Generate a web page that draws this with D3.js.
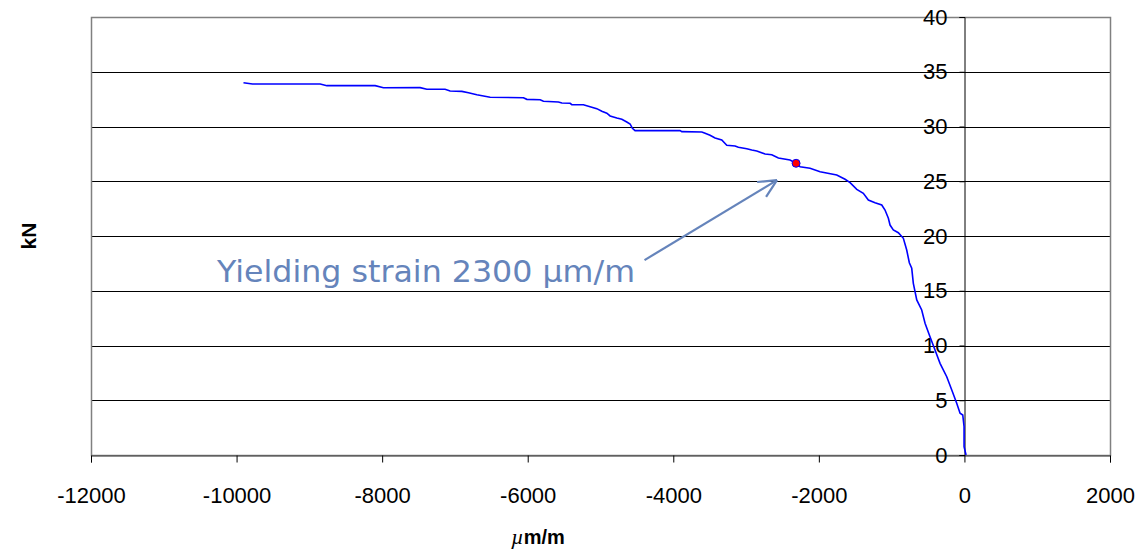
<!DOCTYPE html>
<html>
<head>
<meta charset="utf-8">
<script src="https://cdn.jsdelivr.net/npm/d3@7"></script>
<style>
  body { margin: 0; background: #fff; }
  svg { display: block; }
  .tick text { font-family: "Liberation Sans", Arial, sans-serif; font-size: 22px; fill: #000; }
</style>
</head>
<body>
<svg></svg>
<script>
var W = 1139, H = 552;

// strain (µm/m) and load (kN)
var strain = [-9905, -9781, -8851, -8759, -8096, -7982, -7478, -7386, -7135, -7066, -6905, -6814,
  -6699, -6516, -6059, -6012, -5829, -5784, -5578, -5531, -5417, -5394, -5235, -5143, -5051,
  -4982, -4913, -4868, -4776, -4707, -4639, -4593, -4562, -4525, -3907, -3883, -3608, -3563,
  -3495, -3426, -3334, -3265, -3151, -3106, -2990, -2922, -2853, -2739, -2647, -2556, -2396,
  -2313, -2258, -2121, -1983, -1754, -1640, -1571, -1479, -1389, -1320, -1228, -1136, -1091,
  -1045, -1022, -977, -908, -839, -793, -757, -724, -702, -655, -587, -541, -473, -404, -335,
  -243, -174, -106, -60, -23, -5, -5, 22];
var load = [34.0, 33.88, 33.88, 33.73, 33.73, 33.54, 33.55, 33.40, 33.40, 33.24, 33.21, 33.09,
  32.90, 32.67, 32.63, 32.48, 32.45, 32.30, 32.24, 32.15, 32.12, 31.99, 31.99, 31.81, 31.63,
  31.39, 31.21, 30.96, 30.78, 30.66, 30.41, 30.23, 29.84, 29.62, 29.62, 29.53, 29.50, 29.38,
  29.20, 28.95, 28.77, 28.28, 28.22, 28.10, 27.97, 27.85, 27.76, 27.49, 27.42, 27.12, 26.94,
  26.64, 26.33, 26.18, 25.87, 25.57, 25.18, 24.87, 24.26, 23.90, 23.29, 23.04, 22.83, 22.37,
  21.62, 21.00, 20.55, 20.30, 19.79, 18.72, 17.56, 17.05, 15.68, 14.16, 13.24, 12.03, 10.80,
  9.59, 8.37, 7.15, 5.94, 4.72, 3.81, 3.65, 2.58, 0.76, 0];

var yieldPoint = [-2313, 26.64];
var xTicks = [-12000, -10000, -8000, -6000, -4000, -2000, 0, 2000];
var yTicks = [0, 5, 10, 15, 20, 25, 30, 35, 40];

var svg = d3.select('svg')
    .attr('width', W)
    .attr('height', H);

var x = d3.scaleLinear().domain([-12000, 2000]).range([91, 1110]);
var y = d3.scaleLinear().domain([0, 40]).range([455, 17]);

// gridlines
svg.append('g')
    .selectAll('line')
    .data(yTicks)
    .enter().append('line')
    .attr('x1', x(-12000)).attr('x2', x(2000))
    .attr('y1', function(d) { return Math.round(y(d)) + 0.5 })
    .attr('y2', function(d) { return Math.round(y(d)) + 0.5 })
    .attr('stroke', '#000')
    .attr('stroke-width', 1)

// plot border
svg.append('rect')
    .attr('x', x(-12000) + 0.5)
    .attr('y', y(40) + 0.5)
    .attr('width', x(2000) - x(-12000))
    .attr('height', y(0) - y(40))
    .attr('fill', 'none')
    .attr('stroke', '#808080')
    .attr('stroke-width', 1.5)

// x axis along y = 0
var xAxis = svg.append('g')
    .attr('transform', 'translate(0,' + (Math.round(y(0)) + 0.5) + ')')
    .call(d3.axisBottom(x).tickValues(xTicks).tickSize(7).tickPadding(25).tickFormat(d3.format('d')))
xAxis.select('.domain').attr('stroke', '#404040')
xAxis.selectAll('.tick line').attr('stroke', '#000')
xAxis.selectAll('.tick text').text(function(d) { return String(d) })

// y axis along x = 0
var yAxis = svg.append('g')
    .attr('transform', 'translate(' + (Math.round(x(0)) + 0.5) + ',0)')
    .call(d3.axisLeft(y).tickValues(yTicks).tickSize(5).tickPadding(12))
yAxis.select('.domain').attr('stroke', '#000')
yAxis.selectAll('.tick line').attr('stroke', '#000')

// curve
var line = d3.line()
    .x(function(d, i) { return x(strain[i]) })
    .y(function(d, i) { return y(load[i]) })

svg.append('path')
    .datum(strain)
    .attr('d', line)
    .attr('fill', 'none')
    .attr('stroke', '#0000ff')
    .attr('stroke-width', 1.6)

// yield point
svg.append('circle')
    .attr('cx', x(yieldPoint[0]))
    .attr('cy', y(yieldPoint[1]))
    .attr('r', 4)
    .attr('fill', '#ff0000')
    .attr('stroke', '#0000ff')
    .attr('stroke-width', 1)

// annotation
var annoColor = '#6584bb';
var ax1 = x(-4395), ay1 = y(17.8), ax2 = x(-2575), ay2 = y(25.1);
svg.append('line')
    .attr('x1', ax1).attr('y1', ay1)
    .attr('x2', ax2).attr('y2', ay2)
    .attr('stroke', annoColor)
    .attr('stroke-width', 2.2)
var ang = Math.atan2(ay2 - ay1, ax2 - ax1);
[0.45, -0.45].forEach(function(a) {
    svg.append('line')
        .attr('x1', ax2).attr('y1', ay2)
        .attr('x2', ax2 - 20 * Math.cos(ang + a))
        .attr('y2', ay2 - 20 * Math.sin(ang + a))
        .attr('stroke', annoColor)
        .attr('stroke-width', 2.2)
})

svg.append('text')
    .text('Yielding strain 2300 µm/m')
    .attr('x', 217)
    .attr('y', 282)
    .attr('font-family', '"DejaVu Sans", sans-serif')
    .attr('font-size', 30)
    .attr('textLength', 418)
    .attr('lengthAdjust', 'spacingAndGlyphs')
    .attr('fill', annoColor)

// axis titles
svg.append('text')
    .text('kN')
    .attr('transform', 'translate(36,236) rotate(-90)')
    .attr('text-anchor', 'middle')
    .attr('font-family', '"Liberation Sans", Arial, sans-serif')
    .attr('font-weight', 'bold')
    .attr('font-size', 21)

var xt = svg.append('text')
    .attr('x', 538)
    .attr('y', 544)
    .attr('text-anchor', 'middle')
    .attr('font-family', '"Liberation Sans", Arial, sans-serif')
    .attr('font-weight', 'bold')
    .attr('font-size', 20)
xt.append('tspan').text('µ').attr('font-style', 'italic').attr('font-weight', 'normal').attr('font-family', '"Liberation Serif", serif').attr('font-size', 22)
xt.append('tspan').text('m/m')
</script>
</body>
</html>
